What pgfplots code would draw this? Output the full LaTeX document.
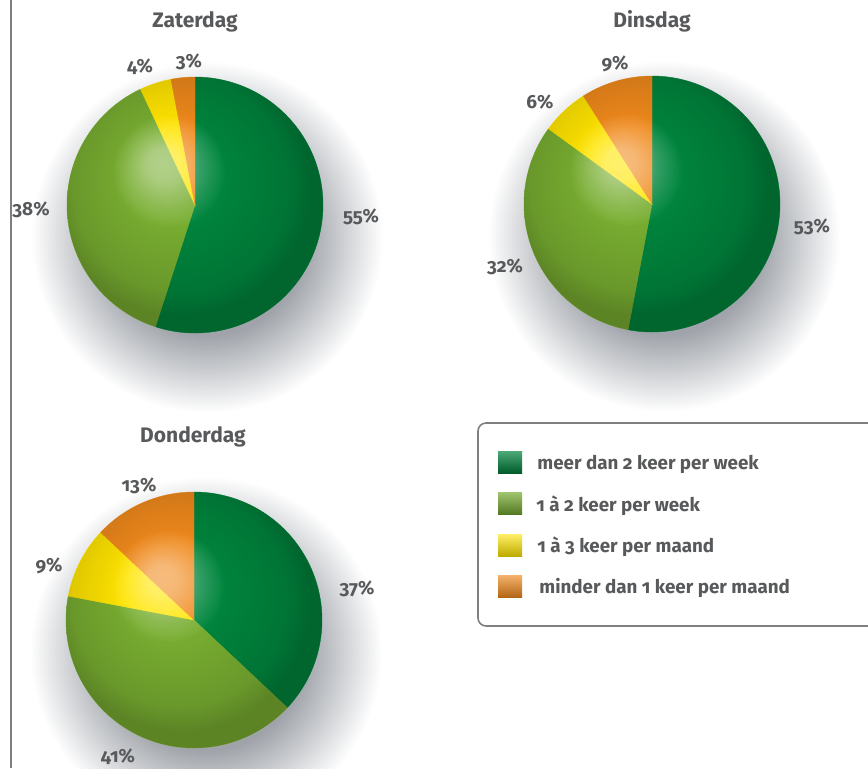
\documentclass[border=0pt]{standalone}
\usepackage{pgfplots}
\pgfplotsset{compat=1.18}
\usepackage{fontspec}
\setmainfont{Fira Sans}[Numbers=OldStyle]
\definecolor{dgreen}{HTML}{00853D}
\definecolor{lgreen}{HTML}{78AD31}
\definecolor{yel}{HTML}{FFE400}
\definecolor{ora}{HTML}{EF891C}
\definecolor{txt}{HTML}{58595B}
\definecolor{frame}{HTML}{7F7F7F}
\definecolor{shcol}{HTML}{A0A4AA}
\definecolor{shcolb}{HTML}{D3D5D8}

% circle of radius r corresponds to 25bp of the shading
\pgfdeclareradialshading{rimshade}{\pgfpoint{-5bp}{7bp}}{color(0bp)=(white); color(9bp)=(white); color(21bp)=(black!12); color(25bp)=(black!23); color(50bp)=(black!23)}
\pgfdeclareradialshading{glowshade}{\pgfpoint{-6.5bp}{8.5bp}}{color(0bp)=(black!57); color(3bp)=(black!61); color(7.5bp)=(black!84); color(11bp)=(black); color(50bp)=(black)}
\pgfdeclareradialshading{shadowshade}{\pgfpointorigin}{color(0bp)=(shcol); color(14bp)=(shcol); color(20bp)=(shcolb); color(25bp)=(white); color(50bp)=(white)}

\newcommand\cum{0}
\newcommand{\slice}[2]{%
  \pgfmathsetmacro\aend{90-3.6*\cum}%
  \pgfmathsetmacro\astart{90-3.6*(\cum+#1)}%
  \pgfmathsetmacro\newcum{\cum+#1}\xdef\cum{\newcum}%
  \addplot[draw=#2, line width=0.2pt, fill=#2, domain=\astart:\aend, samples=120, variable=\t] ({cos(\t)},{sin(\t)}) -- (axis cs:0,0) -- cycle;
}
\pgfplotsset{pie/.style={anchor=center, width=153.6pt, height=153.6pt, scale only axis, xmin=-1.2, xmax=1.2, ymin=-1.2, ymax=1.2, hide axis, clip=false}}

\begin{document}
\begin{tikzpicture}[x=0.5pt, y=-0.5pt]
\useasboundingbox (0,0) rectangle (868,768);
% shadows
\foreach \cx/\cy in {195/205, 652/204, 194/620}
  \shade[shading=shadowshade] (\cx+12,\cy+32) circle[radius=88pt];
% pies
\begin{axis}[pie, at={(97.5pt,-102.5pt)}]
  \gdef\cum{0}
  \slice{55}{dgreen}
  \slice{38}{lgreen}
  \slice{4}{yel}
  \slice{3}{ora}
\end{axis}
\begin{axis}[pie, at={(326pt,-102pt)}]
  \gdef\cum{0}
  \slice{53}{dgreen}
  \slice{32}{lgreen}
  \slice{6}{yel}
  \slice{9}{ora}
\end{axis}
\begin{axis}[pie, at={(97pt,-310pt)}]
  \gdef\cum{0}
  \slice{37}{dgreen}
  \slice{41}{lgreen}
  \slice{9}{yel}
  \slice{13}{ora}
\end{axis}
% 3D look
\foreach \cx/\cy in {195/205, 652/204, 194/620}{
  \shade[shading=rimshade, blend mode=multiply] (\cx,\cy) circle[radius=64pt];
  \shade[shading=glowshade, blend mode=screen] (\cx,\cy) circle[radius=64pt];
}
% frame line
\draw[frame, line width=1pt] (11,0) -- (11,768);
% titles
\begin{scope}[every node/.style={text=txt, font=\fontsize{10.5}{12}\selectfont\bfseries, anchor=base, inner sep=0pt}]
\node at (195,27) {Zaterdag};
\node at (652,27) {Dinsdag};
\node at (193,442) {Donderdag};
\end{scope}
% labels
\begin{scope}[every node/.style={text=txt, font=\fontsize{9.5}{11}\selectfont\bfseries, anchor=base, inner sep=0pt}]
\node at (140,72) {4\%};
\node at (189,67) {3\%};
\node at (31,215) {38\%};
\node at (361,222) {55\%};
\node at (615,69) {9\%};
\node at (540,108) {6\%};
\node at (812,232) {53\%};
\node at (505,272) {32\%};
\node at (139,491) {13\%};
\node at (49,571) {9\%};
\node at (357,594) {37\%};
\node at (118,762) {41\%};
\end{scope}
% legend
\draw[frame, line width=0.8pt, rounded corners=4pt, fill=white] (478,423) rectangle (930,626);
\shade[top color=dgreen!70!white, middle color=dgreen, bottom color=dgreen!70!black] (498,451) rectangle (522,473);
\shade[top color=lgreen!70!white, middle color=lgreen, bottom color=lgreen!70!black] (498,492) rectangle (522,514);
\shade[top color=yel!60!white, middle color=yel, bottom color=yel!75!black] (498,534) rectangle (522,556);
\shade[top color=ora!65!white, middle color=ora, bottom color=ora!75!black] (498,575) rectangle (522,597);
\begin{scope}[every node/.style={text=txt, font=\fontsize{9.4}{11}\selectfont\bfseries, anchor=base west, inner sep=0pt}]
\node at (537,469) {meer dan 2 keer per week};
\node at (536,511) {1 à 2 keer per week};
\node at (537,552) {1 à 3 keer per maand};
\node at (539,593) {minder dan 1 keer per maand};
\end{scope}
\end{tikzpicture}
\end{document}
